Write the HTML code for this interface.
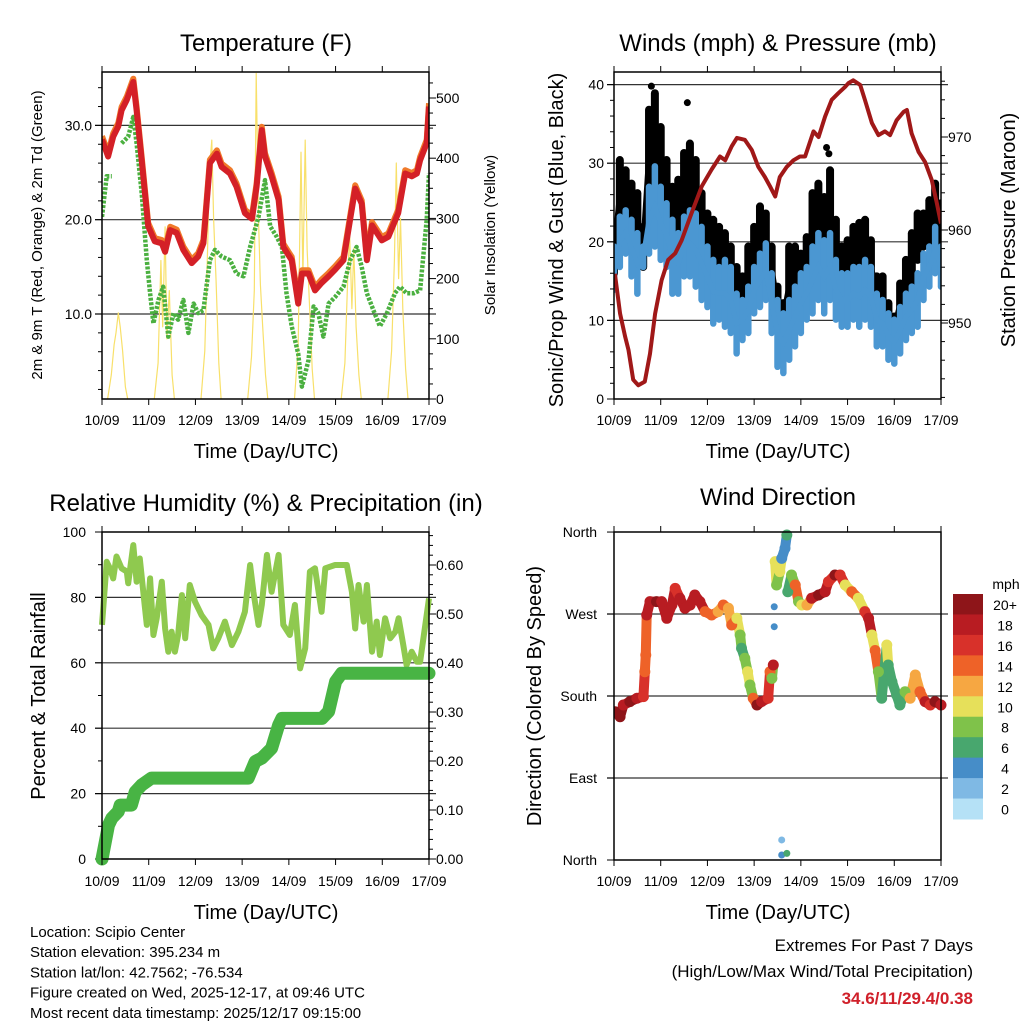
<!DOCTYPE html>
<html><head><meta charset="utf-8"><style>
body{margin:0;background:#fff;width:1024px;height:1024px;overflow:hidden;font-family:"Liberation Sans",Arial,sans-serif}
svg{display:block}
</style></head><body>
<svg id="chart" width="1024" height="1024" viewBox="0 0 1024 1024" xmlns="http://www.w3.org/2000/svg"></svg>
<script>
// ---------- DATA ----------
const dayLabels=["10/09","11/09","12/09","13/09","14/09","15/09","16/09","17/09"];
// Temperature (F)
const tempT=[0,0.13,0.24,0.35,0.42,0.53,0.67,0.74,0.85,0.99,1.13,1.28,1.35,1.46,1.60,1.74,1.92,2.06,2.17,2.31,2.46,2.56,2.74,2.88,3.06,3.21,3.31,3.42,3.49,3.63,3.78,3.88,4.06,4.20,4.28,4.42,4.56,4.70,4.85,4.99,5.17,5.31,5.42,5.56,5.67,5.78,5.99,6.13,6.34,6.49,6.63,6.74,6.81,6.95,7.0];
const tempV=[28.5,26.7,28.8,29.9,31.6,32.7,34.6,31.6,26.3,19.3,17.7,17.5,16.6,18.9,18.6,16.8,15.4,16.1,17.5,26.0,27.0,25.6,24.9,23.5,20.7,20.1,23.5,29.5,26.7,24.6,22.1,17.1,15.7,11.1,14.3,14.3,12.5,13.3,14.0,14.7,15.7,20.0,23.3,21.7,15.7,19.4,17.8,18.2,20.7,24.9,24.6,24.9,26.3,28.1,32.0];
const dewT=[0,0.1,0.21,0.31,0.42,0.56,0.67,0.74,0.85,0.96,1.03,1.1,1.21,1.31,1.42,1.53,1.63,1.74,1.85,1.96,2.06,2.17,2.31,2.42,2.56,2.74,2.88,3.03,3.17,3.35,3.49,3.6,3.74,3.85,3.95,4.06,4.2,4.28,4.42,4.53,4.63,4.74,4.85,4.99,5.17,5.31,5.45,5.56,5.67,5.81,5.95,6.1,6.27,6.38,6.52,6.67,6.81,6.95,7.0];
const dewV=[20.3,24.6,24.6,null,28.1,28.8,30.9,28.1,22.8,15.7,12.2,9.0,11.5,12.9,7.6,10.1,9.4,11.5,8.0,11.1,10.1,10.4,15.7,16.8,16.1,15.7,14.3,14.0,17.1,20.3,24.2,19.3,18.2,17.1,12.2,8.7,5.8,2.3,5.1,10.8,10.1,7.6,11.1,11.8,12.9,15.7,17.1,15.0,12.2,10.4,8.7,10.1,12.2,12.9,12.2,12.2,12.5,20.0,24.9];
// Solar insolation (W/m2)
const solarOffsets=[0.12,0.2,0.26,0.3,0.35,0.39,0.44,0.5,0.55];
const solarDays=[
 [0,40,90,110,143,120,80,20,0],
 [0,60,230,120,286,100,180,40,0],
 [0,80,250,380,430,300,200,60,0],
 [0,70,180,541,300,190,120,40,0],
 [0,90,410,200,430,250,160,50,0],
 [0,60,200,276,150,250,120,40,0],
 [0,80,230,392,200,300,150,50,0]];
// Winds (mph), 3-hourly ranges
const windT=[0,0.125,0.25,0.375,0.5,0.625,0.75,0.875,1,1.125,1.25,1.375,1.5,1.625,1.75,1.875,2,2.125,2.25,2.375,2.5,2.625,2.75,2.875,3,3.125,3.25,3.375,3.5,3.625,3.75,3.875,4,4.125,4.25,4.375,4.5,4.625,4.75,4.875,5,5.125,5.25,5.375,5.5,5.625,5.75,5.875,6,6.125,6.25,6.375,6.5,6.625,6.75,6.875,7];
const windHi=[19.4,23.2,24.0,22.8,21.1,19.4,27.0,29.6,27.0,24.9,22.8,21.1,23.2,24.0,23.6,21.9,19.4,17.7,16.8,17.7,16.8,13.4,12.6,14.3,16.8,18.5,19.8,16.0,12.6,10.9,12.6,14.3,16.0,16.8,19.4,21.1,20.2,21.1,17.7,16.0,16.0,16.8,16.8,17.7,16.8,13.4,12.6,10.9,10.1,11.7,13.4,14.3,16.0,18.5,19.4,21.9,19.4];
const windLo=[13.9,16.8,18.5,15.6,13.4,16.8,18.5,19.4,17.7,16.8,13.4,13.4,15.6,15.6,14.3,12.6,11.7,9.6,10.1,9.2,8.4,5.8,7.5,8.4,10.9,11.7,12.6,8.4,4.1,3.3,5.0,6.7,8.4,10.1,10.9,12.6,10.9,12.6,10.1,9.2,9.2,10.1,9.2,10.1,9.2,6.7,6.7,5.0,4.5,5.8,7.5,8.4,9.2,12.6,14.3,16.0,14.3];
const gustHi=[21.1,30.4,29.1,27.4,26.2,21.9,36.8,38.9,34.6,30.4,27.0,27.9,31.3,32.5,30.4,26.2,23.6,22.8,21.9,21.1,19.4,16.8,15.6,19.4,21.9,24.5,23.6,19.4,14.3,12.2,19.4,19.4,18.5,20.6,26.2,27.4,25.7,29.1,22.8,19.4,20.2,21.9,22.4,22.8,20.2,15.6,15.6,12.2,10.5,14.7,17.7,21.1,23.6,23.6,25.3,27.4,24.9];
const gustLo=[16.0,21.1,21.9,21.1,18.5,16.8,24.5,27.0,24.5,22.8,19.4,19.4,21.9,24.5,22.8,19.4,17.7,15.6,15.1,15.6,13.4,11.3,12.6,13.4,16.0,16.8,17.7,13.4,9.2,8.4,9.2,12.6,13.4,14.3,16.8,18.5,19.4,17.7,16.0,15.1,15.1,15.6,16.8,16.0,13.4,11.3,10.1,8.4,7.5,9.2,12.6,14.3,17.7,19.4,19.4,21.9,19.4];
const gustOutT=[0.80,1.57,4.55,4.60];
const gustOutV=[39.8,37.7,32.0,31.2];
// Pressure (mb)
const presT=[0.02,0.13,0.24,0.31,0.41,0.52,0.66,0.77,0.88,1.02,1.16,1.31,1.45,1.66,1.88,2.09,2.27,2.38,2.52,2.63,2.80,2.95,3.09,3.23,3.34,3.45,3.55,3.70,3.84,3.98,4.09,4.27,4.38,4.52,4.66,4.80,4.95,5.02,5.12,5.27,5.37,5.52,5.66,5.80,5.91,6.05,6.2,6.27,6.37,6.52,6.66,6.80,6.91,7.0];
const presV=[955.3,951.0,948.5,947.1,943.9,943.3,943.7,946.7,951.0,954.6,956.8,957.5,958.9,961.8,964.7,966.5,967.9,967.5,969.0,969.9,969.7,968.6,966.8,965.7,964.7,963.6,965.7,966.8,967.5,967.9,967.9,970.6,970.0,972.2,974.0,974.7,975.4,975.8,976.1,975.6,974.0,971.5,970.2,970.6,970.2,971.8,972.7,972.9,970.4,968.4,967.3,965.4,962.9,960.7];
// Relative humidity (%)
const rhT=[0,0.1,0.17,0.24,0.31,0.42,0.53,0.56,0.67,0.74,0.81,0.92,0.96,1.03,1.1,1.17,1.28,1.35,1.42,1.49,1.56,1.63,1.71,1.78,1.88,1.99,2.13,2.28,2.38,2.49,2.63,2.78,2.92,3.06,3.17,3.24,3.35,3.42,3.53,3.63,3.78,3.88,4.02,4.13,4.24,4.35,4.45,4.56,4.7,4.78,4.99,5.24,5.35,5.42,5.49,5.6,5.67,5.78,5.88,5.95,6.06,6.17,6.28,6.35,6.45,6.52,6.63,6.74,6.81,6.92,7.0];
const rhV=[71.6,90.9,88.9,85.8,92.5,88.9,87.9,84.3,96.0,84.8,91.9,76.7,71.6,85.8,68.5,73.6,84.8,70.5,63.4,69.5,63.4,68.5,80.7,67.5,83.8,78.7,74.6,71.6,64.4,67.5,72.6,65.4,69.5,75.6,89.9,81.7,71.6,77.7,93.0,81.7,93.0,71.6,68.5,77.7,58.3,64.4,87.9,88.9,75.6,88.9,89.9,89.9,81.7,70.5,83.8,72.6,83.8,63.4,72.6,62.4,73.6,67.5,69.5,73.6,65.4,59.3,63.4,60.3,60.3,71.6,79.7];
// Precipitation (in)
const prT=[0,0.14,0.21,0.35,0.39,0.63,0.71,0.85,1.06,3.13,3.28,3.42,3.63,3.78,3.85,4.71,4.85,5.0,5.13,7.0];
const prV=[0,0.069,0.083,0.097,0.110,0.110,0.137,0.151,0.165,0.165,0.199,0.206,0.226,0.273,0.287,0.287,0.301,0.362,0.379,0.379];
// Wind direction (deg) and speed (mph)
const dirT=[0.02,0.13,0.2,0.34,0.49,0.63,0.66,0.68,0.70,0.77,0.91,1.02,1.13,1.24,1.31,1.41,1.52,1.63,1.73,1.84,1.95,2.09,2.23,2.34,2.45,2.52,2.63,2.70,2.73,2.80,2.86,2.91,2.98,3.06,3.16,3.30,3.34,3.38,3.41,3.45,3.48,3.55,3.59,3.66,3.70,3.72,3.80,3.88,3.95,4.02,4.13,4.23,4.38,4.52,4.59,4.73,4.84,4.95,5.09,5.23,5.37,5.45,5.52,5.59,5.66,5.73,5.84,5.87,5.95,6.05,6.12,6.23,6.34,6.45,6.55,6.66,6.77,6.87,7.0];
const dirV=[162.8,157.3,170.1,173.8,177.5,179.3,206.7,225.0,268.9,283.6,283.6,283.6,265.3,279.9,298.2,287.3,276.3,279.9,290.9,283.6,272.6,268.9,272.6,279.9,276.3,258.0,265.3,247.0,232.4,221.4,206.7,192.1,177.5,170.1,173.8,177.5,206.7,199.4,214.1,327.5,301.9,316.5,331.1,342.1,356.7,294.5,312.8,301.9,283.6,279.9,279.9,287.3,290.9,294.5,305.5,312.8,312.8,301.9,294.5,287.3,272.6,265.3,247.0,229.9,206.7,177.5,236.0,214.1,195.7,181.1,170.1,184.7,177.5,203.1,184.7,173.8,170.1,173.8,170.1];
const dirS=[20,20,18,20,18,17,14,14,18,18,20,18,18,18,16,18,18,18,18,18,14,14,13,14,12,14,10,8,6,8,10,8,14,20,18,16,14,8,18,10,8,10,4,4,6,6,8,14,8,10,12,18,20,18,16,20,16,10,14,10,16,18,10,14,8,6,10,6,6,6,6,8,12,12,14,18,16,20,18];
const dirOutT=[3.43,3.43,3.59,3.59,3.70];
const dirOutV=[256.1,278.0,22.0,5.5,7.3];
const dirOutS=[4,4,2,4,6];
const cbLabels=["0","2","4","6","8","10","12","14","16","18","20+"];
const cbColors=["#b5e1f6","#7fb9e4","#468dc8","#48a76e","#7fc24a","#e6e05a","#f6a742","#ee6228","#d8312a","#b81c22","#8e1519"];

// ---------- HELPERS ----------
const svg=document.getElementById('chart');
const NS="http://www.w3.org/2000/svg";
function mk(tag,attrs,parent){const e=document.createElementNS(NS,tag);for(const k in attrs)e.setAttribute(k,attrs[k]);(parent||svg).appendChild(e);return e;}
function txt(s,x,y,size,anchor,parent,extra){const t=mk('text',Object.assign({x:x,y:y,'font-size':size,'text-anchor':anchor||'middle',fill:'#000','font-family':'"Liberation Sans",Arial,sans-serif'},extra||{}),parent);t.textContent=s;return t;}
function spdColor(s){let i=Math.floor(s/2);if(i>10)i=10;if(i<0)i=0;return cbColors[i];}
function pathFrom(ts,vs,xf,yf){let d="",pen=false;for(let i=0;i<ts.length;i++){if(vs[i]===null){pen=false;continue;}d+=(pen?"L":"M")+xf(ts[i]).toFixed(1)+" "+yf(vs[i]).toFixed(1);pen=true;}return d;}

function frame(g,x0,x1,y0,y1,xlabY){
  for(let i=0;i<8;i++){
    const x=x0+i*(x1-x0)/7;
    const t1=mk('line',{x1:x,x2:x,y1:y0-6,y2:y0,stroke:'#000','stroke-width':1},g);
    
    
    const t2=mk('line',{x1:x,x2:x,y1:y1,y2:y1+6,stroke:'#000','stroke-width':1},g);
    
    
    const l=txt(dayLabels[i],x,xlabY,14,'middle',g);
    
    
  }
  const r=mk('rect',{x:x0,y:y0,width:x1-x0,height:y1-y0,fill:'none',stroke:'#000','stroke-width':1.5},g);
  
  
}
function hgrid(g,x0,x1,y){const l=mk('line',{x1:x0-7,x2:x1+7,y1:y,y2:y,stroke:'#333','stroke-width':1.2},g);
  
  }
function ytick(g,x,y,side,len){const l=mk('line',{x1:x,x2:x+(side<0?-len:len),y1:y,y2:y,stroke:'#000','stroke-width':1},g);
  
  }

// ================= PANEL 1: TEMPERATURE =================
{
const x0=102,x1=429,y0=72,y1=399;
const X=d=>x0+d*(x1-x0)/7, YT=v=>408.3-9.43*v, YS=s=>399-0.602*s;
const g=mk('g',{});


const title=txt("Temperature (F)",266,51,24,'middle',g);


[10,20,30].forEach(v=>{hgrid(g,x0,x1,YT(v));const l=txt(v.toFixed(1),92,YT(v)+5,14,'end',g);
  
  });
for(let v=2;v<=34;v+=2)ytick(g,x0,YT(v),-1,v%10===0?7:4);
for(let s=0;s<=525;s+=25)ytick(g,x1,YS(s),1,s%100===0?7:4);
[0,100,200,300,400,500].forEach(s=>{const l=txt(String(s),436,YS(s)+5,14,'start',g);
  
  });
const cp=mk('clipPath',{id:'cp1'},g);mk('rect',{x:x0,y:y0,width:x1-x0,height:y1-y0},cp);
const dg=mk('g',{'clip-path':'url(#cp1)'},g);
for(let d=0;d<solarDays.length;d++){
  const ts=solarOffsets.map(o=>d+o);
  const p=mk('path',{d:pathFrom(ts,solarDays[d],X,YS),fill:'none',stroke:'#f8e06a','stroke-width':1.2,'stroke-linejoin':'round'},dg);
  
  
}
const dew=mk('path',{d:pathFrom(dewT,dewV,X,YT),fill:'none',stroke:'#4bb040','stroke-width':4.5,'stroke-dasharray':'3 1.5','stroke-linejoin':'round'},dg);


const t9=mk('path',{d:pathFrom(tempT,tempV.map(v=>v+0.35),X,YT),fill:'none',stroke:'#f07a2a','stroke-width':6,'stroke-linejoin':'round'},dg);


const t2=mk('path',{d:pathFrom(tempT,tempV,X,YT),fill:'none',stroke:'#d42027','stroke-width':6,'stroke-linejoin':'round'},dg);


frame(g,x0,x1,y0,y1,425);
const xt=txt("Time (Day/UTC)",266,458,20,'middle',g);


const yl=txt("2m & 9m T (Red, Orange) & 2m Td (Green)",0,0,15,'middle',g,{transform:'translate(42,235) rotate(-90)'});


const yr=txt("Solar Insolation (Yellow)",0,0,15,'middle',g,{transform:'translate(495,235) rotate(-90)'});


}

// ================= PANEL 2: WINDS & PRESSURE =================
{
const x0=614,x1=941,y0=72,y1=399;
const X=d=>x0+d*(x1-x0)/7, YW=v=>399-7.86*v, YP=p=>323-(p-950)*9.3;
const g=mk('g',{});


const title=txt("Winds (mph) & Pressure (mb)",778,51,24,'middle',g);


[10,20,30,40].forEach(v=>hgrid(g,x0,x1,YW(v)));
[0,10,20,30,40].forEach(v=>{const l=txt(String(v),604,YW(v)+5,14,'end',g);
  
  });
for(let v=0;v<=40;v+=2)ytick(g,x0,YW(v),-1,v%10===0?7:4);
for(let p=942;p<=976;p+=2)ytick(g,x1,YP(p),1,p%10===0?7:4);
[950,960,970].forEach(p=>{const l=txt(String(p),948,YP(p)+5,14,'start',g);
  
  });
const cp=mk('clipPath',{id:'cp2'},g);mk('rect',{x:x0,y:y0,width:x1-x0,height:y1-y0},cp);
const dg=mk('g',{'clip-path':'url(#cp2)'},g);
for(let i=0;i<windT.length;i++){
  const b=mk('line',{x1:X(windT[i]),x2:X(windT[i]),y1:YW(gustLo[i]),y2:YW(gustHi[i]),stroke:'#000','stroke-width':8,'stroke-linecap':'round'},dg);
  
  
}
const gl=mk('path',{d:pathFrom(windT,gustHi.map((v,i)=>(v+gustLo[i])/2),X,YW),fill:'none',stroke:'#000','stroke-width':6},dg);


for(let i=0;i<gustOutT.length;i++){
  const c=mk('circle',{cx:X(gustOutT[i]),cy:YW(gustOutV[i]),r:3.5,fill:'#000'},dg);
  
  
}
for(let i=0;i<windT.length;i++){
  const b=mk('line',{x1:X(windT[i]),x2:X(windT[i]),y1:YW(windLo[i]),y2:YW(windHi[i]),stroke:'#4b97d2','stroke-width':6.5,'stroke-linecap':'round'},dg);
  
  
}
const ws=mk('path',{d:pathFrom(windT,windT.map((t,i)=>(windHi[i]+windLo[i])/2),X,YW),fill:'none',stroke:'#4b97d2','stroke-width':5},dg);


const pr=mk('path',{d:pathFrom(presT,presV,X,YP),fill:'none',stroke:'#a01818','stroke-width':4,'stroke-linejoin':'round'},dg);


frame(g,x0,x1,y0,y1,425);
const xt=txt("Time (Day/UTC)",778,458,20,'middle',g);


const yl=txt("Sonic/Prop Wind & Gust (Blue, Black)",0,0,20,'middle',g,{transform:'translate(563,240) rotate(-90)'});


const yr=txt("Station Pressure (Maroon)",0,0,20,'middle',g,{transform:'translate(1015,230) rotate(-90)'});


}

// ================= PANEL 3: RH & PRECIP =================
{
const x0=102,x1=429,y0=532,y1=859;
const X=d=>x0+d*(x1-x0)/7, YR=v=>859-3.27*v, YQ=p=>859-490*p;
const g=mk('g',{});


const title=txt("Relative Humidity (%) & Precipitation (in)",266,511,24,'middle',g);


[20,40,60,80].forEach(v=>hgrid(g,x0,x1,YR(v)));
[0,20,40,60,80,100].forEach(v=>{const l=txt(String(v),86,YR(v)+5,14,'end',g);
  
  });
for(let v=0;v<=100;v+=10)ytick(g,x0,YR(v),-1,v%20===0?7:4);
for(let p=0;p<=0.665;p+=0.02)ytick(g,x1,YQ(p),1,Math.round(p*100)%10===0?7:4);
[0,0.1,0.2,0.3,0.4,0.5,0.6].forEach(p=>{const l=txt(p.toFixed(2),436,YQ(p)+5,14,'start',g);
  
  });
const cp=mk('clipPath',{id:'cp3'},g);mk('rect',{x:x0-8,y:y0,width:x1-x0+16,height:y1-y0+8},cp);
const dg=mk('g',{'clip-path':'url(#cp3)'},g);
const rh=mk('path',{d:pathFrom(rhT,rhV,X,YR),fill:'none',stroke:'#8fc94f','stroke-width':6,'stroke-linejoin':'round'},dg);


const pq=mk('path',{d:pathFrom(prT,prV,X,YQ),fill:'none',stroke:'#48b444','stroke-width':13,'stroke-linejoin':'round','stroke-linecap':'round'},dg);


frame(g,x0,x1,y0,y1,886);
const xt=txt("Time (Day/UTC)",266,919,20,'middle',g);


const yl=txt("Percent & Total Rainfall",0,0,20,'middle',g,{transform:'translate(45,696) rotate(-90)'});


}

// ================= PANEL 4: WIND DIRECTION =================
{
const x0=614,x1=941,y0=532,y1=860;
const X=d=>x0+d*(x1-x0)/7, YD=v=>860-0.911*v;
const g=mk('g',{});


const title=txt("Wind Direction",778,505,24,'middle',g);


[90,180,270].forEach(v=>hgrid(g,x0,x1,YD(v)));
[["North",0],["East",90],["South",180],["West",270],["North",360]].forEach(a=>{const l=txt(a[0],597,YD(a[1])+5,14,'end',g);
  
  });
for(let v=0;v<=360;v+=90)ytick(g,x0,YD(v),-1,7);
const cp=mk('clipPath',{id:'cp4'},g);mk('rect',{x:x0,y:y0-6,width:x1-x0+8,height:y1-y0+8},cp);
const dg=mk('g',{'clip-path':'url(#cp4)'},g);
for(let i=0;i<dirT.length-1;i++){
  if(Math.abs(dirV[i+1]-dirV[i])>60)continue;
  const s=mk('line',{x1:X(dirT[i]),y1:YD(dirV[i]),x2:X(dirT[i+1]),y2:YD(dirV[i+1]),stroke:spdColor(dirS[i]),'stroke-width':10,'stroke-linecap':'round'},dg);
  
  
}
for(let i=0;i<dirT.length;i++){
  const c=mk('circle',{cx:X(dirT[i]),cy:YD(dirV[i]),r:5.5,fill:spdColor(dirS[i])},dg);
  
  
}
for(let i=0;i<dirOutT.length;i++){
  const c=mk('circle',{cx:X(dirOutT[i]),cy:YD(dirOutV[i]),r:3.5,fill:spdColor(dirOutS[i])},dg);
  
  
}
frame(g,x0,x1,y0,y1,886);
const xt=txt("Time (Day/UTC)",778,919,20,'middle',g);


const yl=txt("Direction (Colored By Speed)",0,0,20,'middle',g,{transform:'translate(541,696) rotate(-90)'});


const cb=mk('g',{},g);


const cbTop=594,cbH=225/11;
const mph=txt("mph",1006,589,14,'middle',cb);


for(let i=0;i<cbColors.length;i++){
  const k=cbColors.length-1-i;
  const r=mk('rect',{x:953,y:cbTop+i*cbH,width:30,height:cbH+0.5,fill:cbColors[k]},cb);
  
  
  const l=txt(cbLabels[k],1005,cbTop+i*cbH+16,14,'middle',cb);
  
  
}
}

// ================= FOOTER =================
{
const g=mk('g',{});


["Location: Scipio Center","Station elevation: 395.234 m","Station lat/lon: 42.7562; -76.534","Figure created on Wed, 2025-12-17, at 09:46 UTC","Most recent data timestamp: 2025/12/17 09:15:00"].forEach((s,i)=>{
  const t=txt(s,30,937+i*20.2,15,'start',g);
  
  
});
const e=mk('g',{});


const a=txt("Extremes For Past 7 Days",973,951,17,'end',e);


const b=txt("(High/Low/Max Wind/Total Precipitation)",973,977,17,'end',e);


const c=txt("34.6/11/29.4/0.38",973,1004,17,'end',e,{fill:'#d0202a','font-weight':'bold'});


}
</script>
</body></html>
